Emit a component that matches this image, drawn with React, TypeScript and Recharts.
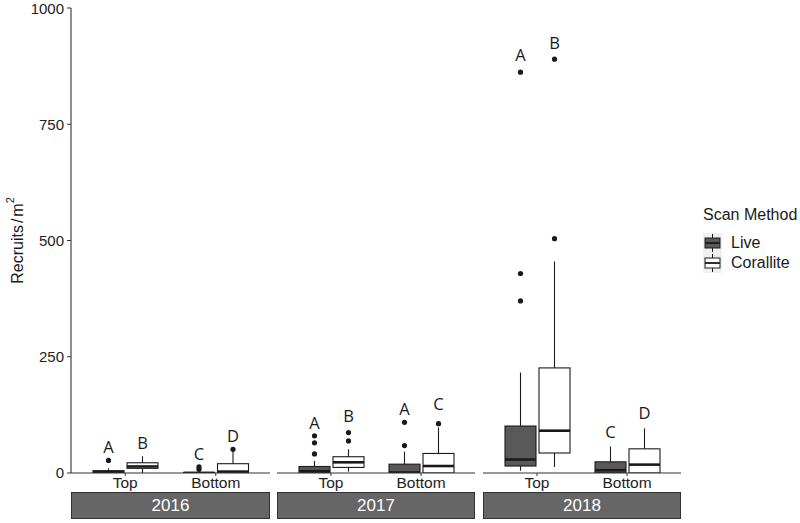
import React from "react";
import { Bar, ComposedChart, XAxis, YAxis } from "recharts";

const years = ["2016", "2017", "2018"];
const positions = ["Top", "Bottom"];
const yTicks = [0, 250, 500, 750, 1000];

// box stats per year, per position: [whiskerLow, q1, median, q3, whiskerHigh]
const liveStats = [
  [[0, 0, 1.5, 5, 10], [0, 0, 0.3, 1, 3]],
  [[0, 0, 4, 14, 26], [0, 0, 1, 19, 46]],
  [[5, 15, 29, 101, 216], [0, 0, 6, 24, 57]],
];
const coralliteStats = [
  [[0, 10, 14, 22, 36], [0, 0, 3, 20, 48]],
  [[3, 12, 23, 35, 51], [0, 0, 15, 42, 98]],
  [[13, 43, 91, 226, 455], [0, 0, 18, 52, 96]],
];
const liveOutliers = [
  [[27], [8, 13]],
  [[41, 65, 80], [59, 109]],
  [[370, 429, 862], []],
];
const coralliteOutliers = [
  [[], [51]],
  [[69, 87], [106]],
  [[504, 890], []],
];
const liveLetters = [["A", "C"], ["A", "A"], ["A", "C"]];
const coralliteLetters = [["B", "D"], ["B", "C"], ["B", "D"]];
const liveLetterY = [[57, 43], [109, 139], [900, 90]];
const coralliteLetterY = [[66, 81], [124, 150], [925, 131]];

const LIVE_FILL = "#595959";
const INK = "#1a1a1a";
const AXIS = "#333333";
const SANS = "'Liberation Sans', Arial, sans-serif";

const panels = [
  { left: 0, width: 275, right: 5, showAxis: true, dashed: true },
  { left: 277, width: 203, right: 5, showAxis: false, dashed: true },
  { left: 483, width: 198, right: 0, showAxis: false, dashed: false },
];

function buildRows(yi: number) {
  return positions.map((pos, pi) => ({
    pos,
    live: liveStats[yi][pi],
    liveOut: liveOutliers[yi][pi],
    liveLetter: liveLetters[yi][pi],
    liveLetterY: liveLetterY[yi][pi],
    coral: coralliteStats[yi][pi],
    coralOut: coralliteOutliers[yi][pi],
    coralLetter: coralliteLetters[yi][pi],
    coralLetterY: coralliteLetterY[yi][pi],
  }));
}

function renderBox(p: any, key: "live" | "coral", fill: string) {
  const row = p.payload;
  const s: number[] = row[key];
  const unit = p.height / (s[4] - s[0]);
  const yOf = (v: number) => p.y + p.height - (v - s[0]) * unit;
  const cx = p.x + p.width / 2;
  const outs: number[] = row[key + "Out"];
  return (
    <g>
      <line x1={cx} x2={cx} y1={yOf(s[4])} y2={yOf(s[0])} stroke={INK} strokeWidth={1.1} />
      <rect
        x={p.x}
        y={yOf(s[3])}
        width={p.width}
        height={Math.max(yOf(s[1]) - yOf(s[3]), 0.5)}
        fill={fill}
        stroke={INK}
        strokeWidth={1.1}
      />
      <line x1={p.x} x2={p.x + p.width} y1={yOf(s[2])} y2={yOf(s[2])} stroke={INK} strokeWidth={2.6} />
      {outs.map((v, i) => (
        <circle key={i} cx={cx} cy={yOf(v)} r={2.6} fill={INK} />
      ))}
      <text
        x={cx}
        y={yOf(row[key + "LetterY"])}
        textAnchor="middle"
        dominantBaseline="central"
        fontFamily="'Open Sans', sans-serif"
        fontSize={16.5}
        fill={INK}
      >
        {row[key + "Letter"]}
      </text>
    </g>
  );
}

function Panel({ yi }: { yi: number }) {
  const cfg = panels[yi];
  const rows = buildRows(yi);
  return (
    <div style={{ position: "absolute", left: cfg.left, top: 0 }}>
      <ComposedChart
        width={cfg.width}
        height={523}
        data={rows}
        margin={{ top: 8, right: cfg.right, bottom: 30, left: 0 }}
        barCategoryGap={13}
        barGap={3}
      >
        <XAxis
          dataKey="pos"
          type="category"
          padding={{ left: 9, right: 9 }}
          height={20}
          axisLine={{ stroke: AXIS, strokeWidth: 1.1 }}
          tickLine={{ stroke: AXIS }}
          tickSize={3}
          tickMargin={1}
          tick={{ fill: "#222", fontSize: 15.5, fontFamily: SANS }}
        />
        <YAxis
          yAxisId="v"
          type="number"
          domain={[0, 1000]}
          ticks={yTicks}
          allowDataOverflow
          hide={!cfg.showAxis}
          width={cfg.showAxis ? 71 : 0}
          axisLine={{ stroke: AXIS, strokeWidth: 1.1 }}
          tickLine={{ stroke: AXIS }}
          tickSize={4}
          tickMargin={3}
          tick={{ fill: "#222", fontSize: 15, fontFamily: SANS }}
          label={
            cfg.showAxis
              ? {
                  content: (lp: any) => {
                    const vb = lp.viewBox;
                    const cx = vb.x + 17;
                    const cy = vb.y + vb.height / 2;
                    return (
                      <text
                        x={cx}
                        y={cy}
                        transform={`rotate(-90 ${cx} ${cy})`}
                        textAnchor="middle"
                        dominantBaseline="central"
                        fontFamily={SANS}
                        fontSize={16}
                        fill={INK}
                      >
                        Recruits
                        <tspan dx={2}>/</tspan>
                        <tspan dx={2}>m</tspan>
                        <tspan dy={-7} fontSize={11}>2</tspan>
                      </text>
                    );
                  },
                }
              : undefined
          }
        />
        {cfg.dashed && (
          <YAxis
            yAxisId="edge"
            orientation="right"
            type="number"
            domain={[0, 1000]}
            width={0}
            tick={false}
            tickLine={false}
            axisLine={{ stroke: "#5a5a5a", strokeDasharray: "4 3", strokeWidth: 1 }}
          />
        )}
        <Bar
          yAxisId="v"
          dataKey={(d: any) => [d.live[0], d.live[4]]}
          name="Live"
          fill={LIVE_FILL}
          isAnimationActive={false}
          shape={(p: any) => renderBox(p, "live", LIVE_FILL)}
        />
        <Bar
          yAxisId="v"
          dataKey={(d: any) => [d.coral[0], d.coral[4]]}
          name="Corallite"
          fill="#ffffff"
          isAnimationActive={false}
          shape={(p: any) => renderBox(p, "coral", "#ffffff")}
        />
      </ComposedChart>
      <div
        style={{
          position: "absolute",
          left: cfg.showAxis ? 71 : 0,
          top: 492,
          width: cfg.width - cfg.right - (cfg.showAxis ? 71 : 0),
          height: 27,
          boxSizing: "border-box",
          background: "#666666",
          border: "1px solid #333",
          color: "#ffffff",
          fontFamily: SANS,
          fontSize: 17,
          lineHeight: "25px",
          textAlign: "center",
        }}
      >
        {years[yi]}
      </div>
    </div>
  );
}

const legendItems = [
  { label: "Live", fill: LIVE_FILL },
  { label: "Corallite", fill: "#ffffff" },
];

function LegendBlock() {
  return (
    <div style={{ position: "absolute", left: 703, top: 205, fontFamily: SANS, color: INK }}>
      <div style={{ fontSize: 16, lineHeight: "20px" }}>Scan Method</div>
      <div style={{ marginTop: 8 }}>
        {legendItems.map((it) => (
          <div key={it.label} style={{ display: "flex", alignItems: "center", height: 20 }}>
            <svg width={19} height={20}>
              <rect x={0} y={0} width={19} height={20} fill="#f0f0f0" />
              <line x1={9.5} x2={9.5} y1={1} y2={19} stroke={INK} strokeWidth={1} />
              <rect x={2} y={5} width={15} height={10} fill={it.fill} stroke={INK} strokeWidth={1} />
              <line x1={2} x2={17} y1={10} y2={10} stroke={INK} strokeWidth={1.8} />
            </svg>
            <span style={{ fontSize: 16, marginLeft: 9 }}>{it.label}</span>
          </div>
        ))}
      </div>
    </div>
  );
}

export default function App() {
  return (
    <div style={{ position: "absolute", left: 0, top: 0, width: 800, height: 523, background: "#ffffff" }}>
      {years.map((_, yi) => (
        <Panel key={yi} yi={yi} />
      ))}
      <LegendBlock />
    </div>
  );
}
